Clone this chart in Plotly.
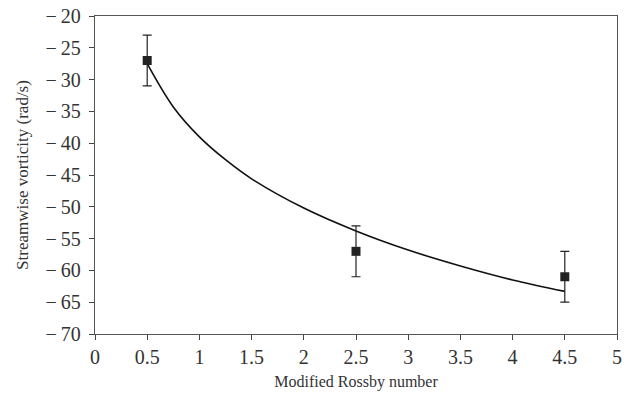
import plotly.graph_objects as go

# measured points with error bars
rossby = [0.5, 2.5, 4.5]
vorticity = [-27, -57, -61]
err = [4, 4, 4]

# trend curve
curve_x = [0.5, 0.75, 1, 1.25, 1.5, 2, 2.5, 3, 3.5, 4, 4.5]
curve_y = [-27.5, -34.3, -39, -42.6, -45.6, -50.2, -53.8, -56.8, -59.3, -61.5, -63.3]

x_ticks = [0, 0.5, 1, 1.5, 2, 2.5, 3, 3.5, 4, 4.5, 5]
y_ticks = [-70, -65, -60, -55, -50, -45, -40, -35, -30, -25, -20]

fig = go.Figure()

fig.add_trace(go.Scatter(
    x=curve_x, y=curve_y, mode="lines",
    line=dict(color="#111111", width=1.6, shape="spline"),
    showlegend=False, hoverinfo="skip"))

fig.add_trace(go.Scatter(
    x=rossby, y=vorticity, mode="markers",
    marker=dict(symbol="square", size=9, color="#222222"),
    error_y=dict(type="data", array=err, visible=True,
                 color="#222222", thickness=1.2, width=4.5),
    showlegend=False))

serif = "Liberation Serif, serif"
tick_font = dict(family=serif, size=20, color="#333333")

fig.update_xaxes(
    range=[0, 5], tickvals=x_ticks, ticktext=[f"{v:g}" for v in x_ticks],
    ticks="outside", ticklen=5, tickcolor="#444444", automargin=False,
    ticklabeloverflow="allow",
    showline=True, linecolor="#555555", linewidth=1.3, mirror=True,
    showgrid=False, zeroline=False, tickfont=tick_font,
    title=dict(text="Modified Rossby number",
               font=dict(family=serif, size=16, color="#333333"), standoff=8))

fig.update_yaxes(
    range=[-70, -20], tickvals=y_ticks,
    ticktext=["\u2212\u2009" + str(abs(v)) for v in y_ticks],
    ticks="outside", ticklen=5, tickcolor="#444444", automargin=False,
    ticklabelstandoff=4,
    showline=True, linecolor="#555555", linewidth=1.3, mirror=True,
    showgrid=False, zeroline=False, tickfont=tick_font,
    title=dict(text="Streamwise vorticity (rad/s)",
               font=dict(family=serif, size=17, color="#333333"), standoff=12))

fig.update_layout(
    width=625, height=400,
    margin=dict(l=95, r=8, t=16, b=66),
    plot_bgcolor="white", paper_bgcolor="white")

# drop the page's default body margin so the figure sits at the window corner
fig.write_html("out.html", config={"displayModeBar": False},
               post_script="document.body.style.margin='0';")
